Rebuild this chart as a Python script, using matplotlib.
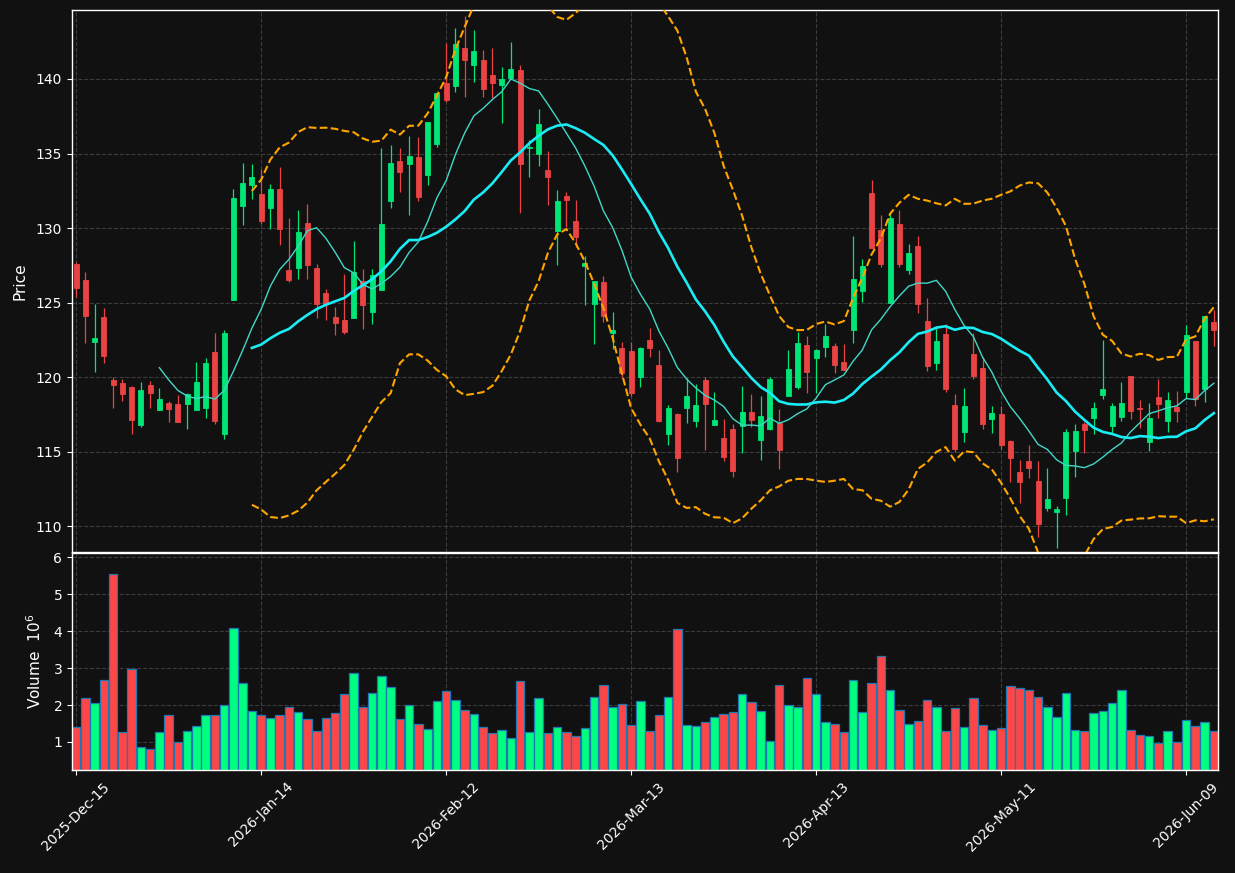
import matplotlib

matplotlib.use("Agg")
import matplotlib.pyplot as plt  # noqa: E402
import numpy as np  # noqa: E402
import pandas as pd  # noqa: E402

# OHLC per trading day (index 0 = 2025-12-15)
opens = [
    127.58, 126.51, 122.37, 124.03, 119.80, 119.60, 119.33, 116.78, 119.46, 117.81,
    118.26, 118.19, 118.21, 117.81, 117.94, 121.68, 116.20, 125.19, 131.50, 132.89,
    132.29, 131.36, 132.62, 127.16, 127.34, 130.33, 127.32, 125.64, 124.03, 123.85,
    123.98, 126.44, 124.38, 125.86, 131.83, 134.50, 134.32, 134.76, 133.58, 135.64,
    139.72, 139.53, 142.08, 140.94, 141.27, 140.27, 139.60, 140.07, 140.60, 135.40,
    134.97, 133.89, 129.80, 132.15, 130.49, 127.47, 124.92, 126.37, 122.93, 121.92,
    121.75, 120.00, 122.48, 120.81, 116.20, 117.54, 117.94, 117.05, 119.80, 116.80,
    115.91, 116.51, 116.73, 117.65, 115.80, 116.51, 116.94, 118.75, 119.35, 122.13,
    121.30, 122.04, 122.08, 121.00, 123.18, 125.79, 132.35, 129.87, 124.99, 130.27,
    127.18, 128.79, 123.76, 120.94, 122.89, 118.12, 116.33, 121.54, 120.60, 117.18,
    117.50, 115.70, 113.60, 114.36, 113.02, 111.23, 110.92, 111.90, 115.03, 116.87,
    117.27, 118.81, 116.73, 117.34, 120.07, 117.92, 115.66, 118.66, 117.07, 118.01,
    119.01, 122.42, 119.19, 123.69,
]
highs = [
    127.74, 127.03, 124.90, 124.61, 119.98, 119.84, 119.40, 119.67, 119.73, 119.24,
    118.39, 118.77, 118.90, 121.03, 121.28, 122.93, 123.18, 132.60, 134.34, 134.30,
    133.95, 132.93, 134.07, 130.65, 131.19, 131.59, 127.58, 125.91, 124.67, 126.89,
    129.10, 127.22, 127.22, 135.35, 135.55, 135.35, 136.15, 136.08, 137.11, 139.06,
    142.39, 143.40, 144.23, 143.27, 141.92, 142.06, 140.78, 142.46, 140.94, 135.90,
    137.96, 135.15, 132.53, 132.44, 131.86, 128.14, 126.47, 126.80, 124.34, 122.37,
    122.33, 122.04, 123.27, 121.79, 118.10, 117.61, 119.91, 119.51, 120.02, 119.02,
    117.16, 116.82, 119.40, 118.86, 118.72, 120.02, 117.83, 121.81, 123.02, 122.75,
    121.86, 123.53, 122.26, 122.20, 129.44, 127.90, 133.22, 130.85, 130.98, 131.21,
    128.93, 129.44, 125.30, 123.27, 123.56, 118.86, 119.24, 122.97, 121.36, 118.03,
    118.03, 115.80, 114.41, 115.44, 114.36, 113.87, 111.32, 116.53, 116.82, 117.00,
    118.30, 122.48, 118.23, 119.64, 120.07, 118.46, 118.23, 119.84, 118.97, 119.06,
    123.49, 122.42, 124.12, 124.50,
]
lows = [
    125.35, 122.30, 120.31, 120.92, 117.94, 118.41, 116.15, 116.66, 117.94, 117.79,
    116.96, 116.96, 116.49, 117.79, 117.27, 116.82, 115.82, 125.19, 130.18, 131.92,
    130.27, 129.91, 128.84, 126.35, 126.60, 126.55, 123.98, 123.85, 122.80, 122.91,
    123.98, 123.20, 123.53, 125.86, 131.36, 132.39, 130.85, 131.79, 132.91, 135.46,
    138.45, 139.11, 138.77, 139.82, 138.81, 138.72, 137.02, 140.02, 130.98, 133.45,
    134.18, 131.52, 127.54, 130.09, 128.70, 124.81, 122.21, 123.67, 121.86, 120.02,
    118.70, 119.35, 121.32, 116.98, 115.41, 113.60, 116.89, 116.67, 115.10, 116.80,
    114.34, 113.31, 114.88, 116.67, 114.41, 116.42, 113.80, 118.75, 119.17, 118.95,
    118.90, 121.32, 120.25, 120.47, 122.26, 125.06, 128.68, 127.40, 124.99, 127.36,
    126.91, 124.27, 120.38, 120.45, 118.97, 114.99, 115.62, 119.89, 116.49, 116.22,
    115.20, 112.93, 111.52, 113.20, 109.28, 111.00, 108.50, 110.72, 113.31, 114.88,
    116.20, 118.52, 116.22, 117.05, 117.16, 116.56, 115.01, 117.23, 116.33, 117.00,
    118.57, 118.08, 118.34, 122.10,
]
closes = [
    126.00, 124.11, 122.62, 121.43, 119.49, 118.88, 117.14, 119.13, 118.95, 118.52,
    117.85, 117.00, 118.86, 119.69, 120.94, 117.07, 122.95, 132.01, 133.02, 133.42,
    130.48, 132.62, 129.96, 126.51, 129.73, 127.54, 124.92, 124.92, 123.65, 123.04,
    127.07, 124.85, 126.85, 130.27, 134.36, 133.78, 134.83, 132.08, 137.11, 139.06,
    138.59, 142.35, 141.27, 141.88, 139.33, 139.73, 140.00, 140.67, 134.32, 135.46,
    136.98, 133.45, 131.81, 131.90, 129.40, 127.63, 126.47, 124.12, 123.15, 120.25,
    118.95, 121.95, 121.97, 117.05, 117.92, 114.59, 118.72, 118.12, 118.21, 117.10,
    114.63, 113.71, 117.65, 117.11, 117.38, 119.87, 115.12, 120.54, 122.28, 120.36,
    121.81, 122.75, 120.83, 120.49, 126.58, 127.43, 128.68, 127.58, 130.69, 127.58,
    128.32, 124.90, 120.74, 122.42, 119.19, 115.17, 118.05, 120.07, 116.84, 117.58,
    115.45, 114.59, 112.98, 113.91, 110.16, 111.81, 111.14, 116.31, 116.38, 116.47,
    117.92, 119.19, 118.07, 118.25, 117.74, 117.83, 117.25, 118.21, 118.46, 117.74,
    122.82, 118.50, 124.12, 123.15,
]
# volume in millions
volumes = [
    1.40, 2.18, 2.05, 2.69, 5.56, 1.26, 2.97, 0.87, 0.80, 1.26,
    1.72, 0.99, 1.29, 1.42, 1.72, 1.72, 1.99, 4.10, 2.59, 1.83,
    1.72, 1.64, 1.72, 1.94, 1.80, 1.61, 1.29, 1.64, 1.78, 2.29,
    2.86, 1.94, 2.34, 2.80, 2.48, 1.61, 1.99, 1.48, 1.34, 2.10,
    2.37, 2.15, 1.86, 1.75, 1.40, 1.24, 1.32, 1.10, 2.64, 1.26,
    2.18, 1.24, 1.40, 1.26, 1.15, 1.37, 2.21, 2.53, 1.96, 2.02,
    1.45, 2.10, 1.29, 1.72, 2.21, 4.07, 1.45, 1.42, 1.53, 1.67,
    1.75, 1.80, 2.29, 2.07, 1.83, 1.02, 2.53, 1.99, 1.94, 2.72,
    2.29, 1.53, 1.48, 1.26, 2.69, 1.80, 2.59, 3.32, 2.40, 1.86,
    1.48, 1.56, 2.13, 1.94, 1.29, 1.91, 1.40, 2.18, 1.45, 1.32,
    1.37, 2.51, 2.45, 2.42, 2.21, 1.94, 1.67, 2.32, 1.32, 1.29,
    1.78, 1.83, 2.05, 2.40, 1.32, 1.18, 1.15, 0.97, 1.29, 0.99,
    1.59, 1.42, 1.53, 1.29,
]
tick_labels = ["2025-Dec-15", "2026-Jan-14", "2026-Feb-12", "2026-Mar-13",
               "2026-Apr-13", "2026-May-11", "2026-Jun-09"]
tick_step = 20  # trading days between date labels

BG = "#111111"
UP, DOWN = "#00e676", "#ea4343"
VUP, VDOWN = "#00ff80", "#ff4646"

df = pd.DataFrame({"open": opens, "high": highs, "low": lows, "close": closes, "vol": volumes})
x = np.arange(len(df))
up = df["close"] >= df["open"]

ma10 = df["close"].rolling(10).mean()
ma20 = df["close"].rolling(20).mean()
sd20 = df["close"].rolling(20).std()

fig = plt.figure(figsize=(12.35, 8.73), dpi=100, facecolor=BG)
ax = fig.add_axes([72 / 1235, 1 - 552 / 873, 1146 / 1235, 542 / 873], facecolor=BG)
axv = fig.add_axes([72 / 1235, 1 - 770 / 873, 1146 / 1235, 217 / 873], facecolor=BG, sharex=ax)

# candles: wicks then bodies
cols = np.where(up, UP, DOWN)
ax.vlines(x, df["low"], df["high"], colors=cols, lw=0.9, zorder=2)
body_lo = np.minimum(df["open"], df["close"])
body_h = (df["open"] - df["close"]).abs()
ax.bar(x, body_h, bottom=body_lo, width=0.55, color=cols, edgecolor=cols, lw=0.6, zorder=3)

# moving averages and bollinger bands
ax.plot(x, ma10, color="#40d8c8", lw=1.0, zorder=4)
ax.plot(x, ma20, color="#19ecf5", lw=1.9, zorder=4)
ax.plot(x, ma20 + 2 * sd20, color="orange", lw=1.5, ls="--", zorder=4)
ax.plot(x, ma20 - 2 * sd20, color="orange", lw=1.5, ls="--", zorder=4)

# volume
axv.bar(x, df["vol"], width=0.9, color=np.where(up, VUP, VDOWN), edgecolor="#1f77b4", lw=0.9)

ax.set_xlim(-0.45, len(df) - 0.55)
ax.set_ylim(108.26, 144.63)
axv.set_ylim(0.24, 6.12)

ticks = x[::tick_step]
axv.set_xticks(ticks)
axv.set_xticklabels(tick_labels, rotation=45, ha="center")
ax.tick_params(axis="x", labelbottom=False)
ax.set_yticks([110, 115, 120, 125, 130, 135, 140])
axv.set_yticks([1, 2, 3, 4, 5, 6])

ax.set_ylabel("Price", color="white", fontsize=11, labelpad=6)
axv.set_ylabel("Volume  $10^{6}$", color="white", fontsize=11, labelpad=7)

for a in (ax, axv):
    a.grid(True, ls="--", color="#3c3c3c", lw=0.8)
    a.set_axisbelow(True)
    a.tick_params(colors="white", labelsize=10)
    for s in a.spines.values():
        s.set_color("white")
        s.set_linewidth(1.0)

fig.savefig("out.png", dpi=100, facecolor=BG)
plt.close(fig)
